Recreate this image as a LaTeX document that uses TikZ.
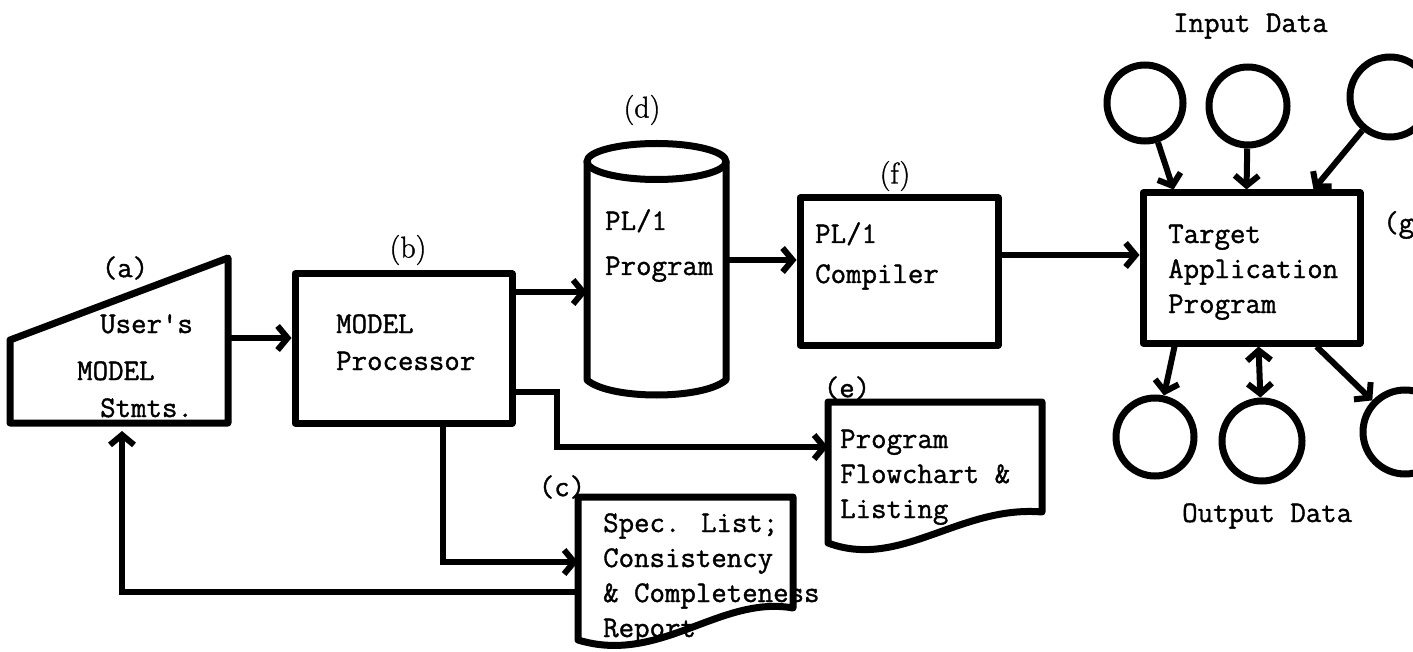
\documentclass[tikz,border=0pt]{standalone}
\usepackage{fontspec}
\newfontfamily\typew{Latin Modern Mono}[FakeBold=1.2]
\newfontfamily\labrm{Latin Modern Roman}[FakeBold=1.2]
\usetikzlibrary{arrows.meta}
\tikzset{
  outline/.style={draw, line width=7pt, line join=round, line cap=round},
  shapebox/.style={draw, line width=7pt, inner sep=0pt, line join=round},
  ghost/.style={inner sep=0pt, outer sep=0pt},
  txt/.style={font=\fontsize{30}{35}\selectfont\typew, inner sep=0pt, anchor=base west, align=left},
  tag/.style={font=\fontsize{30}{35}\selectfont\labrm, inner sep=0pt},
  ttag/.style={font=\fontsize{30}{35}\selectfont\typew, inner sep=0pt},
  conn/.style={line width=6pt, -{Straight Barb[length=10pt,width=24pt]}},
  conntwo/.style={line width=6pt, {Straight Barb[length=10pt,width=24pt]}-{Straight Barb[length=10pt,width=24pt]}},
  data/.style={circle, draw, line width=7pt, inner sep=0pt},
}
\begin{document}
\begin{tikzpicture}[x=1pt,y=-1pt]
\useasboundingbox (0,0) rectangle (1413,652);
\clip (0,0) rectangle (1413,652);

% (a) manual input
\node[ghost, minimum width=218pt, minimum height=165pt] (a) at (119,340.5) {};
\draw[outline] (a.south west) -- (10,340) -- (a.north east) -- (a.south east) -- cycle;
\node[ttag] (la) at (125,268) {(a)};
\node[txt] (a1) at (100,333) {User's};
\node[txt] (a2) at (77,380) {MODEL};
\node[txt] (a3) at (100,417) {Stmts.};

% (b) processor
\node[shapebox, minimum width=217pt, minimum height=149pt] (b) at (403.5,348.5) {};
\node[tag] (lb) at (408,250) {(b)};
\node[txt, font=\fontsize{30}{37}\selectfont\typew] (bt) at (336,370) {MODEL\\Processor};

% (d) storage cylinder
\node[ghost, minimum width=139pt, minimum height=254pt] (d) at (656.5,270) {};
\draw[outline] (587,161.5) -- (587,380) .. controls (610,400) and (703,400) .. (726,380) -- (726,161.5);
\draw[outline] (656.5,161.5) ellipse [x radius=69.5pt, y radius=18pt];
\node[tag] (ld) at (642,110) {(d)};
\node[txt, font=\fontsize{30}{45}\selectfont\typew] (dt) at (605,275) {PL/1\\Program};

% (f) compiler
\node[shapebox, minimum width=198pt, minimum height=147pt] (f) at (899,271.5) {};
\node[tag] (lf) at (895,176) {(f)};
\node[txt, font=\fontsize{30}{40}\selectfont\typew] (ft) at (815,283) {PL/1\\Compiler};

% (g) target program
\node[shapebox, minimum width=217pt, minimum height=150pt] (g) at (1251.5,268) {};
\node[ttag, anchor=west] (lg) at (1383,225) {(g)};
\node[txt] (gt) at (1168,313) {Target\\Application\\Program};

% (c) report document
\node[ghost, minimum width=215pt, minimum height=143pt] (c) at (685.5,568.5) {};
\draw[outline] (578,640) -- (578,497) -- (793,497) -- (793,608) .. controls (720,595) and (660,665) .. (578,640);
\node[ttag] (lc) at (562,487) {(c)};
\node[txt] (ct) at (603,637) {Spec. List;\\Consistency\\\& Completeness\\Report};

% (e) listing document
\node[ghost, minimum width=214pt, minimum height=141pt] (e) at (935,472.5) {};
\draw[outline] (828,543) -- (828,402) -- (1042,402) -- (1042,512) .. controls (960,505) and (900,570) .. (828,543);
\node[ttag] (le) at (847,388) {(e)};
\node[txt] (et) at (840,518) {Program\\Flowchart \&\\Listing};

% data files
\node[data, minimum size=76pt] (in1) at (1145,103) {};
\node[data, minimum size=78pt] (in2) at (1248,106) {};
\node[data, minimum size=80pt] (in3) at (1390,97) {};
\node[data, minimum size=78pt] (out1) at (1155,437) {};
\node[data, minimum size=80pt] (out2) at (1262,441) {};
\node[data, minimum size=84pt] (out3) at (1405,432) {};
\node[txt] (indata) at (1173,32) {Input Data};
\node[txt] (outdata) at (1182,522) {Output Data};

% connectors
\draw[conn] ([yshift=2.5pt]a.east) -- ([yshift=10.5pt]b.west);
\draw[conn] ([yshift=56.5pt]b.east) -- ([yshift=-22pt]d.west);
\draw[conn] ([yshift=-43.5pt]b.east) -- ++(41,0) |- ([yshift=25.5pt]e.west);
\draw[conn] ([xshift=39.5pt]b.south) |- ([yshift=6.5pt]c.west);
\draw[conn, shorten >=8pt] ([yshift=-23.5pt]c.west) -| ([xshift=3pt]a.south);
\draw[conn] ([yshift=10pt]d.east) -- ([yshift=11.5pt]f.west);
\draw[conn] ([yshift=16.5pt]f.east) -- ([yshift=13pt]g.west);
\draw[conn] (in1) -- ([xshift=34pt]g.north west);
\draw[conn] (in2) -- ([xshift=107pt]g.north west);
\draw[conn] (in3) -- ([xshift=174pt]g.north west);
\draw[conn] ([xshift=35pt]g.south west) -- (out1);
\draw[conntwo] ([xshift=119pt]g.south west) -- (out2);
\draw[conn] ([xshift=177pt]g.south west) -- (out3);
\end{tikzpicture}
\end{document}
